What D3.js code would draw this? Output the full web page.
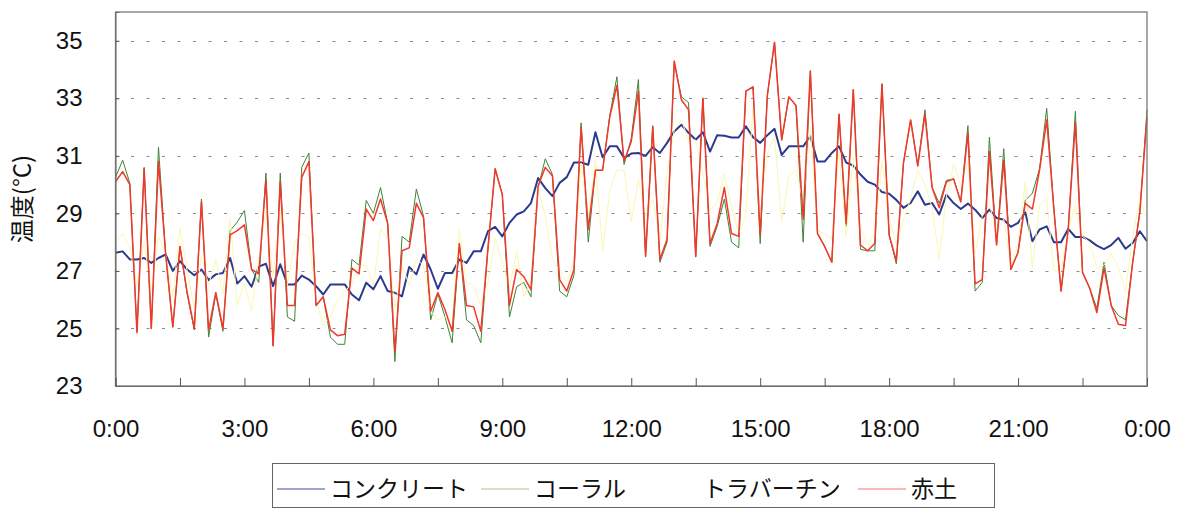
<!DOCTYPE html>
<html>
<head>
<meta charset="utf-8">
<script src="https://cdn.jsdelivr.net/npm/d3@7"></script>
<style>
  body { margin: 0; background: #fff; }
  svg text { font-family: "Liberation Sans", Arial, sans-serif; fill: #111; }
  svg text.jp { font-family: "Noto Sans CJK JP", sans-serif; }
</style>
</head>
<body>
<svg id="chart" width="1182" height="510"></svg>
<script>
// Surface temperature readings, one every 10 minutes from 0:00 to 24:00 (145 points)
const stepMinutes = 10;

const concrete = [
  27.63, 27.68, 27.40, 27.40, 27.45, 27.28, 27.45, 27.57, 27.00, 27.34,
  27.05, 26.85, 27.05, 26.68, 26.88, 26.93, 27.45, 26.56, 26.82, 26.45,
  27.15, 27.25, 26.47, 27.23, 26.53, 26.53, 26.84, 26.70, 26.47, 26.18,
  26.53, 26.53, 26.53, 26.18, 25.98, 26.59, 26.36, 26.82, 26.30, 26.24,
  26.12, 27.14, 26.88, 27.57, 27.05, 26.38, 26.93, 26.93, 27.40, 27.28,
  27.68, 27.68, 28.38, 28.53, 28.20, 28.67, 28.96, 29.07, 29.36, 30.23,
  29.88, 29.60, 30.06, 30.26, 30.77, 30.77, 30.69, 31.82, 30.95, 31.33,
  31.33, 30.93, 31.08, 31.10, 31.00, 31.30, 31.10, 31.45, 31.85, 32.08,
  31.80, 31.56, 31.82, 31.15, 31.72, 31.70, 31.64, 31.64, 32.03, 31.65,
  31.45, 31.72, 31.94, 31.03, 31.33, 31.33, 31.33, 31.68, 30.80, 30.80,
  31.10, 31.33, 30.77, 30.66, 30.35, 30.10, 30.00, 29.74, 29.68, 29.47,
  29.19, 29.36, 29.77, 29.30, 29.36, 28.96, 29.65, 29.36, 29.15, 29.34,
  29.13, 28.84, 29.13, 28.84, 28.78, 28.53, 28.67, 29.04, 28.03, 28.44,
  28.55, 28.00, 28.00, 28.46, 28.18, 28.18, 28.06, 27.88, 27.76, 27.90,
  28.15, 27.77, 27.97, 28.38, 28.03
];

const coral = [
  30.25, 30.85, 30.05, 24.90, 30.60, 25.00, 31.30, 27.60, 25.05, 27.85,
  26.20, 24.95, 29.50, 24.70, 26.20, 24.90, 28.40, 28.70, 29.10, 27.05,
  26.60, 30.40, 24.40, 30.40, 25.40, 25.25, 30.60, 31.10, 25.80, 26.10,
  24.70, 24.45, 24.45, 27.40, 27.20, 29.45, 29.00, 29.90, 28.65, 23.85,
  28.20, 28.00, 29.85, 28.90, 25.30, 26.20, 25.40, 24.50, 27.95, 25.30,
  25.10, 24.50, 27.80, 30.55, 29.65, 25.40, 26.45, 26.60, 26.10, 29.90,
  30.90, 30.35, 26.30, 26.10, 26.85, 32.15, 28.00, 30.50, 30.50, 32.40,
  33.75, 30.70, 31.60, 33.65, 27.50, 32.05, 27.30, 28.00, 34.25, 33.05,
  32.85, 27.50, 33.00, 27.85, 28.55, 29.50, 28.00, 27.80, 33.25, 33.40,
  27.95, 33.10, 34.95, 31.55, 33.05, 32.75, 28.00, 33.95, 28.30, 27.85,
  27.30, 32.45, 28.55, 33.30, 27.75, 27.70, 27.70, 33.50, 28.25, 27.25,
  30.75, 32.25, 30.65, 32.60, 29.90, 29.35, 30.15, 30.20, 29.40, 32.05,
  26.30, 26.60, 31.65, 27.90, 31.25, 27.05, 27.65, 29.45, 29.70, 30.55,
  32.65, 29.15, 26.30, 28.45, 32.55, 26.95, 26.40, 25.70, 27.30, 25.80,
  25.45, 25.30, 27.30, 29.05, 32.60
];

const travertine = [
  28.00, 28.30, 27.80, 26.50, 28.00, 26.30, 28.20, 27.60, 26.10, 28.50,
  27.00, 25.70, 27.50, 26.50, 27.40, 26.20, 28.85, 25.80, 26.60, 25.60,
  27.40, 29.10, 26.80, 29.10, 26.50, 28.00, 28.30, 28.20, 26.00, 25.10,
  25.40, 26.00, 26.25, 26.60, 27.20, 27.20, 26.50, 28.45, 28.10, 25.70,
  27.20, 26.50, 27.40, 27.20, 25.60, 25.30, 25.40, 25.30, 28.45, 26.60,
  26.50, 25.80, 26.60, 28.15, 27.30, 26.40, 27.70, 26.10, 26.60, 29.90,
  28.90, 27.40, 27.00, 26.60, 27.30, 30.75, 28.90, 30.85, 27.70, 29.80,
  30.50, 30.50, 28.70, 30.20, 28.90, 29.50, 28.10, 30.40, 31.90, 32.25,
  31.55, 31.55, 30.40, 29.10, 29.40, 30.40, 29.20, 28.30, 28.90, 32.70,
  28.90, 31.10, 31.65, 28.70, 30.30, 30.50, 29.40, 32.00, 28.40, 28.30,
  28.10, 31.20, 28.20, 31.00, 28.50, 27.90, 28.30, 30.80, 28.90, 27.90,
  28.80, 29.50, 30.50, 30.00, 29.20, 27.40, 29.60, 30.70, 30.00, 30.80,
  27.60, 28.90, 29.30, 28.40, 28.80, 27.10, 28.00, 30.10, 27.10, 29.30,
  29.50, 27.00, 27.00, 28.40, 29.30, 28.20, 28.00, 27.10, 27.20, 27.60,
  27.10, 26.30, 28.20, 29.50, 28.80
];

const akatsuchi = [
  30.10, 30.45, 30.00, 24.85, 30.55, 25.00, 30.80, 27.60, 25.05, 27.85,
  26.25, 25.00, 29.40, 24.95, 26.25, 25.00, 28.25, 28.40, 28.60, 27.05,
  26.90, 30.15, 24.40, 30.10, 25.80, 25.80, 30.25, 30.80, 25.80, 26.10,
  24.95, 24.75, 24.80, 27.10, 26.90, 29.15, 28.75, 29.50, 28.65, 24.20,
  27.70, 27.80, 29.35, 28.85, 25.60, 26.25, 25.65, 24.90, 27.95, 25.80,
  25.75, 24.90, 27.80, 30.55, 29.65, 25.80, 27.05, 26.80, 26.35, 29.95,
  30.60, 30.30, 26.70, 26.30, 27.05, 32.00, 28.45, 30.50, 30.50, 32.35,
  33.45, 30.80, 31.50, 33.25, 27.50, 32.00, 27.40, 28.10, 34.30, 32.95,
  32.60, 27.50, 33.00, 27.95, 28.65, 29.90, 28.30, 28.20, 33.25, 33.40,
  28.25, 33.10, 34.95, 31.55, 33.05, 32.75, 28.80, 33.95, 28.30, 27.85,
  27.30, 32.45, 28.65, 33.30, 27.90, 27.70, 27.95, 33.50, 28.25, 27.35,
  30.75, 32.25, 30.65, 32.45, 29.90, 29.20, 30.10, 30.20, 29.40, 31.80,
  26.55, 26.70, 31.15, 27.90, 30.85, 27.05, 27.65, 29.35, 29.15, 30.50,
  32.25, 29.15, 26.30, 28.45, 32.15, 26.95, 26.40, 25.55, 27.10, 25.80,
  25.15, 25.10, 27.30, 29.05, 32.35
];

const seriesNames  = ["コンクリート", "コーラル", "トラバーチン", "赤土"];
const seriesValues = [concrete, coral, travertine, akatsuchi];
const seriesColors = ["#2b3a8f", "#3d8535", "#fbf7b4", "#f2382c"];
const seriesWidths = [2, 1, 1, 1.5];
const legendColors = ["#7f86c4", "#c9d8b4", "#ffffff", "#f7a2a0"];

const yTicks = [23, 25, 27, 29, 31, 33, 35];
const yDomain = [23, 36];
const xMinorStep = 90;            // tick marks every 1.5 h
const xLabelStep = 180;           // labels every 3 h
const xTickLabels = ["0:00", "3:00", "6:00", "9:00", "12:00", "15:00", "18:00", "21:00", "0:00"];
const yTitle = "温度(°C)";

// ---- layout ----
const svg = d3.select("#chart");
const plot = { left: 115.5, right: 1147, top: 12, bottom: 386 };

const x = d3.scaleLinear().domain([0, 1440]).range([plot.left, plot.right]);
const y = d3.scaleLinear().domain(yDomain).range([plot.bottom, plot.top]);

svg.append("rect").attr("width", 1182).attr("height", 510).attr("fill", "#fff");

// dotted horizontal gridlines
svg.append("g")
  .selectAll("line")
  .data(yTicks.filter(v => v > yDomain[0]))
  .join("line")
  .attr("x1", plot.left).attr("x2", plot.right)
  .attr("y1", d => Math.round(y(d)) + 0.5).attr("y2", d => Math.round(y(d)) + 0.5)
  .attr("stroke", "#8a8a8a")
  .attr("stroke-width", 1.2)
  .attr("stroke-dasharray", "3,12.5");

// series lines
const line = d3.line()
  .x((d, i) => x(i * stepMinutes))
  .y(d => y(d));

const g = svg.append("g");
seriesValues.forEach((vals, k) => {
  g.append("path")
    .datum(vals)
    .attr("fill", "none")
    .attr("stroke", seriesColors[k])
    .attr("stroke-width", seriesWidths[k])
    .attr("stroke-linejoin", "round")
    .attr("d", line);
});

// plot frame
svg.append("rect")
  .attr("x", plot.left).attr("y", plot.top)
  .attr("width", plot.right - plot.left).attr("height", plot.bottom - plot.top)
  .attr("fill", "none").attr("stroke", "#7a7a7a").attr("stroke-width", 1.3);

// y axis
const yAxis = d3.axisLeft(y)
  .tickValues(yTicks)
  .tickSize(-4)
  .tickPadding(33)
  .tickFormat(d3.format("d"));
const ya = svg.append("g").attr("transform", `translate(${plot.left},0)`).call(yAxis);
ya.select(".domain").attr("stroke", "#6a6a6a");
ya.selectAll(".tick line").attr("stroke", "#555");
ya.selectAll(".tick text").attr("font-size", 24).attr("fill", "#1a1a1a")
  .attr("font-family", "Liberation Sans, Arial, sans-serif");

// x axis
const xTickValues = d3.range(0, 1440 + 1, xMinorStep);
const xAxis = d3.axisBottom(x)
  .tickValues(xTickValues)
  .tickSize(-8)
  .tickPadding(34)
  .tickFormat(d => (d % xLabelStep === 0 ? xTickLabels[d / xLabelStep] : ""));
const xa = svg.append("g").attr("transform", `translate(0,${plot.bottom})`).call(xAxis);
xa.select(".domain").attr("stroke", "#6a6a6a");
xa.selectAll(".tick line").attr("stroke", "#555");
xa.selectAll(".tick text").attr("font-size", 24).attr("fill", "#1a1a1a")
  .attr("font-family", "Liberation Sans, Arial, sans-serif");

// y title
svg.append("text")
  .attr("class", "jp")
  .attr("transform", `translate(31,${(plot.top + plot.bottom) / 2}) rotate(-90)`)
  .attr("text-anchor", "middle")
  .attr("font-size", 24)
  .text(yTitle);

// legend
const legend = svg.append("g");
legend.append("rect")
  .attr("x", 272.5).attr("y", 463.5).attr("width", 722).attr("height", 44)
  .attr("fill", "#fff").attr("stroke", "#666").attr("stroke-width", 1);

const legendX = [277, 481, 650, 858];
seriesNames.forEach((name, k) => {
  legend.append("line")
    .attr("x1", legendX[k]).attr("x2", legendX[k] + 48)
    .attr("y1", 489).attr("y2", 489)
    .attr("stroke", legendColors[k]).attr("stroke-width", 1.5);
  legend.append("text")
    .attr("class", "jp")
    .attr("x", legendX[k] + 53).attr("y", 497)
    .attr("font-size", 23)
    .text(name);
});
</script>
</body>
</html>
